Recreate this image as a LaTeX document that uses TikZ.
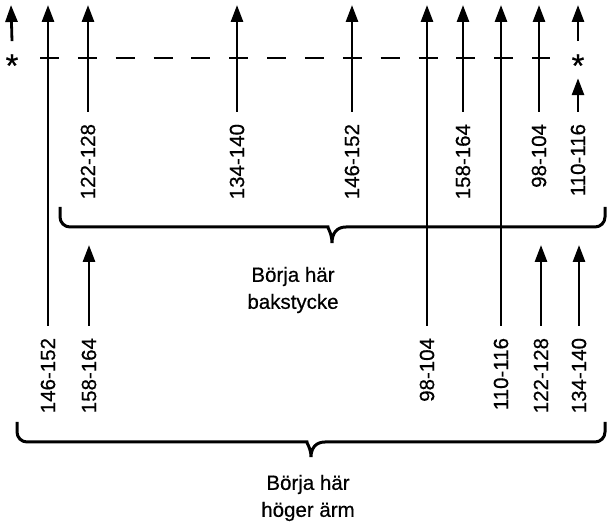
\documentclass[tikz,border=0pt]{standalone}
\usepackage{fontspec}
\setmainfont{Liberation Sans}
\newfontfamily\lblfont[FakeBold=0.5]{Liberation Sans}
\usetikzlibrary{arrows.meta}

\tikzset{
  arr/.style={line width=2.8pt, -{Triangle[length=17pt,width=12pt]}},
  rib/.style={line width=2.8pt},
  brc/.style={line width=3pt},
  num/.style={rotate=90, anchor=east, inner sep=0pt, outer sep=12pt, font=\lblfont\fontsize{20.5}{24}\selectfont},
  note/.style={align=center, inner sep=0pt, font=\lblfont\fontsize{20.5}{27}\selectfont},
  star/.style={anchor=base, inner sep=0pt, font=\lblfont\fontsize{33}{35}\selectfont}
}

\begin{document}
\begin{tikzpicture}[x=1pt, y=-1pt]
        \useasboundingbox (0,0) rectangle (614,526);
        % tops of the arrows
        \coordinate (tA) at (48,5);
        \coordinate (tB) at (88,5);
        \coordinate (tC) at (237,5);
        \coordinate (tD) at (352,5);
        \coordinate (tE) at (427,5);
        \coordinate (tF) at (463,5);
        \coordinate (tG) at (501,5);
        \coordinate (tH) at (539,5);
        \coordinate (tL) at (11,5);
        \coordinate (tR) at (578,5);
        \coordinate (mB) at (89,245);
        \coordinate (mH) at (541,245);
        \coordinate (mI) at (579,245);
        % dashed line
        \draw [rib, dash pattern=on 19pt off 18.85pt] (40,58) -- (550,58);
        \node [star] (starL) at (12,77) {*};
        \node [star] (starR) at (578,77) {*};
        % back piece
        \node [num] (bk1) at (88,112) {122-128};
        \node [num] (bk2) at (237,112) {134-140};
        \node [num] (bk3) at (352,112) {146-152};
        \node [num] (bk4) at (463,112) {158-164};
        \node [num] (bk5) at (539,112) {98-104};
        \node [num] (bk6) at (578,112) {110-116};
        % right sleeve
        \node [num] (ar1) at (48,326) {146-152};
        \node [num] (ar2) at (89,326) {158-164};
        \node [num] (ar3) at (427,326) {98-104};
        \node [num] (ar4) at (501,326) {110-116};
        \node [num] (ar5) at (541,326) {122-128};
        \node [num] (ar6) at (579,326) {134-140};
        \draw [arr] (bk1.east) -- (tB);
        \draw [arr] (bk2.east) -- (tC);
        \draw [arr] (bk3.east) -- (tD);
        \draw [arr] (bk4.east) -- (tF);
        \draw [arr] (bk5.east) -- (tH);
        \draw [arr] (bk6.east) -- ([yshift=-1pt]starR.south);
        \draw [arr] ([yshift=13pt]starR.north) -- (tR);
        \draw [arr] ([yshift=13pt]starL.north) -- (tL);
        \draw [arr] (ar1.east) -- (tA);
        \draw [arr] (ar2.east) -- (mB);
        \draw [arr] (ar3.east) -- (tE);
        \draw [arr] (ar4.east) -- (tG);
        \draw [arr] (ar5.east) -- (mH);
        \draw [arr] (ar6.east) -- (mI);
        % braces
        \draw [brc] (60,207) {[rounded corners=10pt] -- (60,227) -- (318,227)} .. controls (327,227) and (332,233) .. (332,243)
              .. controls (332,233) and (337,227) .. (346,227) {[rounded corners=10pt] -- (605,227) -- (605,207)};
        \draw [brc] (17,422) {[rounded corners=10pt] -- (17,442) -- (297,442)} .. controls (306,442) and (311,448) .. (311,457)
              .. controls (311,448) and (316,442) .. (325,442) {[rounded corners=10pt] -- (605,442) -- (605,422)};
        \node [note] (bak) at (293,290) {Börja här\\bakstycke};
        \node [note] (arm) at (308,498) {Börja här\\höger ärm};
      \end{tikzpicture}
\end{document}
